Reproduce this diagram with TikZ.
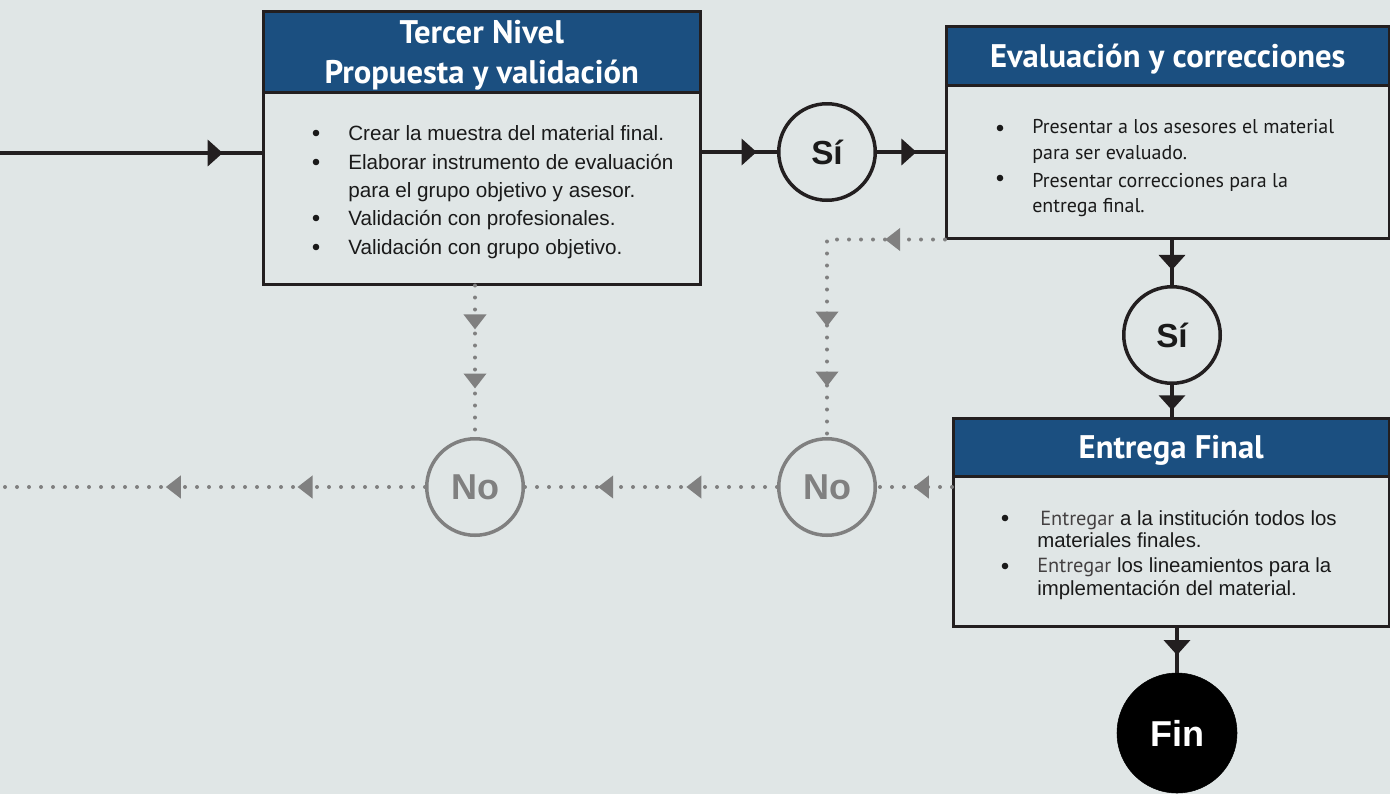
\documentclass[tikz,border=0pt]{standalone}
\usepackage{fontspec}
\setmainfont{Liberation Sans}
\newfontfamily\ptsans{PT Sans}
\usetikzlibrary{decorations.markings,arrows.meta}

\definecolor{bgc}{HTML}{E0E6E6}
\definecolor{hdr}{HTML}{1B4F80}
\definecolor{ink}{HTML}{231F20}
\definecolor{grayln}{HTML}{808080}
\definecolor{txt}{HTML}{1A1A1A}

\newlength\pu
\setlength\pu{0.75pt}

\tikzset{
  hdrbox/.style={draw=ink, line width=2.5\pu, fill=hdr, text=white, anchor=north west,
    font=\ptsans\bfseries\fontsize{24.5}{30}\selectfont, align=center, inner sep=0pt,
    text depth=0pt},
  bodybox/.style={draw=ink, line width=2.5\pu, fill=bgc, anchor=north west, inner sep=0pt},
  yesnode/.style={circle, draw=ink, line width=3.5\pu, minimum size=96.5\pu, inner sep=0pt,
    text=txt, font=\bfseries\fontsize{25}{25}\selectfont},
  nonode/.style={circle, draw=grayln, line width=3.5\pu, minimum size=96.5\pu, inner sep=0pt,
    text=grayln, font=\bfseries\fontsize{27}{27}\selectfont},
  endnode/.style={circle, fill=black, draw=black, minimum size=120\pu, inner sep=0pt,
    text=white, font=\bfseries\fontsize{27}{27}\selectfont},
  flow/.style={draw=ink, line width=3.5\pu},
  dotflow/.style={draw=grayln, line width=4\pu, line cap=round, dash pattern=on 0pt off 12\pu},
  blackhead/.style={postaction={decorate, decoration={markings,
    mark=at position #1 with {\arrow[ink]{Triangle[length=11.25pt,width=19.5pt]}}}}},
  grayheads/.style 2 args={postaction={decorate, decoration={markings,
    mark=at position #1 with {\arrow[grayln]{Triangle[length=11.25pt,width=16.5pt]}},
    mark=at position #2 with {\arrow[grayln]{Triangle[length=11.25pt,width=16.5pt]}}}}},
  grayhead/.style={postaction={decorate, decoration={markings,
    mark=at position #1 with {\arrow[grayln]{Triangle[length=11.25pt,width=16.5pt]}}}}},
  line/.style={anchor=base west, inner sep=0pt, text=txt, font=\fontsize{15.5}{18}\selectfont},
  eline/.style={anchor=base west, inner sep=0pt, text=txt, font=\fontsize{15.3}{18}\selectfont},
  pline/.style={anchor=base west, inner sep=0pt, text=txt, font=\ptsans\fontsize{15}{18}\selectfont},
  dot/.style={fill=txt}
}

\begin{document}
\begin{tikzpicture}[x=0.75pt, y=-0.75pt]
\fill[bgc] (0,0) rectangle (1390,794);
\useasboundingbox (0,0) rectangle (1390,794);

% --- Tercer Nivel box
\node[bodybox, minimum width=437\pu, minimum height=192\pu] (b1) at (262,91) {};
\node[hdrbox, minimum width=437\pu, minimum height=81\pu] (h1) at (262,10)
  {Tercer Nivel\\Propuesta y validación};

% --- Evaluation box
\node[bodybox, minimum width=443\pu, minimum height=153\pu] (b2) at (945,84) {};
\node[hdrbox, minimum width=443\pu, minimum height=59\pu] (h2) at (945,25)
  {Evaluación y correcciones};

% --- Delivery box
\node[bodybox, minimum width=436\pu, minimum height=150\pu] (b3) at (952,475) {};
\node[hdrbox, minimum width=436\pu, minimum height=58\pu] (h3) at (952,417)
  {Entrega Final};

% --- decision and end circles
\node[yesnode] (s1) at (827,152) {Sí};
\node[yesnode] (s2) at (1172,335) {Sí};
\node[nonode] (n1) at (475,487) {No};
\node[nonode] (n2) at (827,487) {No};
\node[endnode] (fin) at (1177,733) {Fin};

% --- list in the first box
\fill[dot] (316,133) circle (3.3);
\fill[dot] (316,162) circle (3.3);
\fill[dot] (316,218) circle (3.3);
\fill[dot] (316,247) circle (3.3);
\node[line] (l11) at (348,140) {Crear la muestra del material final.};
\node[line] (l12) at (348,169) {Elaborar instrumento de evaluación};
\node[line] (l13) at (348,197) {para el grupo objetivo y asesor.};
\node[line] (l14) at (348,225) {Validación con profesionales.};
\node[line] (l15) at (348,254) {Validación con grupo objetivo.};

% --- list in the evaluation box
\fill[dot] (1000,128) circle (3.3);
\fill[dot] (1000,178) circle (3.3);
\node[pline] (l21) at (1032,133) {Presentar a los asesores el material};
\node[pline] (l22) at (1032,159) {para ser evaluado.};
\node[pline] (l23) at (1032,187) {Presentar correcciones para la};
\node[pline] (l24) at (1032,212) {entrega final.};

% --- list in the delivery box
\fill[dot] (1005,518) circle (3.3);
\fill[dot] (1005,566) circle (3.3);
\node[eline] (l31) at (1040,525) {{\ptsans\color{ink!85}Entregar} a la institución todos los};
\node[eline] (l32) at (1037,547) {materiales finales.};
\node[eline] (l33) at (1037,572) {{\ptsans\color{ink!85}Entregar} los lineamientos para la};
\node[eline] (l34) at (1037,595) {implementación del material.};

% --- main flow
\coordinate (inlet) at (0,153);
\draw[flow, blackhead=0.85] (inlet) -- (inlet -| b1.west);
\draw[flow, blackhead=0.73] (s1 -| b1.east) -- (s1);
\draw[flow, blackhead=0.58] (s1) -- (s1 -| b2.west);
\draw[flow, blackhead=0.67] (s2 |- b2.south) -- (s2);
\draw[flow, blackhead=0.79] (s2) -- (s2 |- h3.north);
\draw[flow, blackhead=0.61] (fin |- b3.south) -- (fin);

% --- rejection paths
\coordinate (outlet) at (0,487);
\draw[dotflow, grayheads={0.29}{0.68}] (n1 |- b1.south) -- (n1);
\draw[dotflow, grayheads={0.65}{0.84}, grayhead=0.19] (b2.south west) -- (n2 |- b2.south west) -- (n2);
\draw[dotflow, grayhead=0.51] (n2 -| b3.west) -- (n2);
\draw[dotflow, grayheads={0.36}{0.71}] (n2) -- (n1);
\draw[dotflow, grayheads={0.30}{0.61}] (n1) -- (outlet);
\end{tikzpicture}
\end{document}
